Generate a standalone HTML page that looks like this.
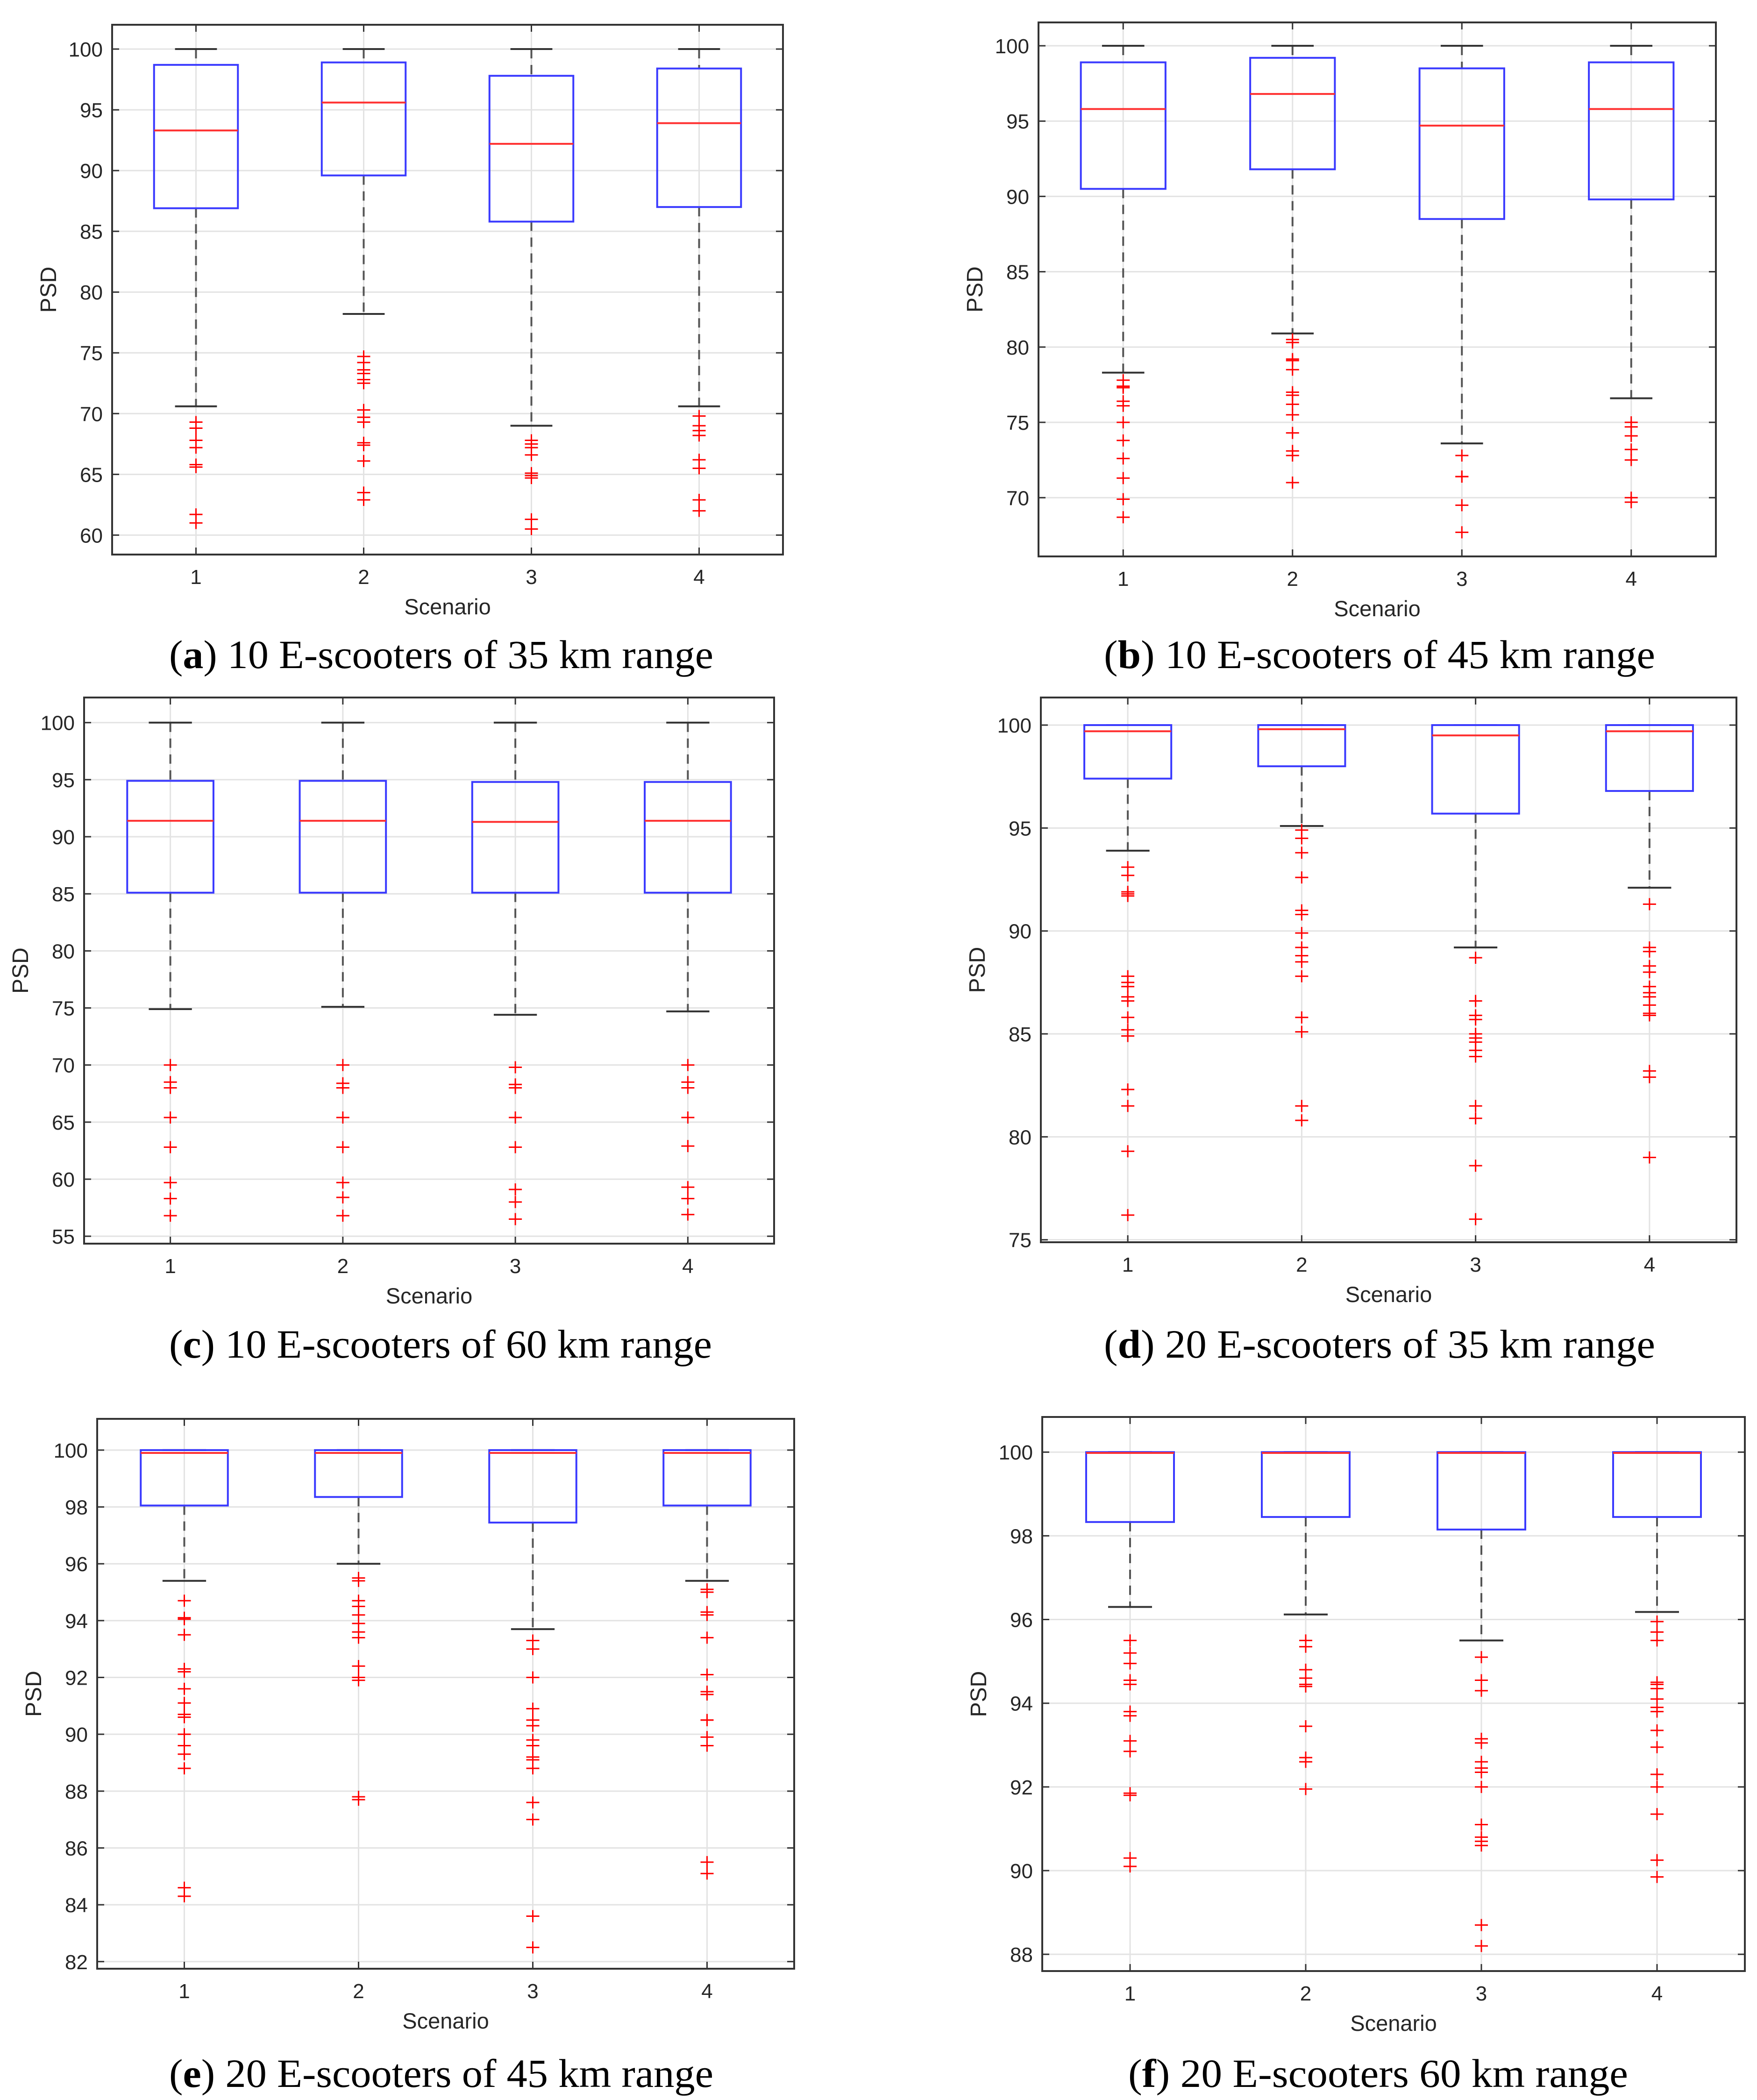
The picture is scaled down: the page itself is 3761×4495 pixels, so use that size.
<!DOCTYPE html>
<html><head><meta charset="utf-8"><style>
html,body{margin:0;padding:0;background:#fff}
svg{display:block}
</style></head><body>
<svg id="fig" xmlns="http://www.w3.org/2000/svg" width="3761" height="4495" viewBox="0 0 3761 4495"></svg>
<script>
// ---- data: panel (a)
const aTicks=[60,65,70,75,80,85,90,95,100];
const aUpper=[100,100,100,100];
const aQ3=[98.7,98.9,97.8,98.4];
const aMed=[93.3,95.6,92.2,93.9];
const aQ1=[86.9,89.6,85.8,87.0];
const aLower=[70.6,78.2,69.0,70.6];
const aOut1=[69.3,68.8,67.8,67.2,65.8,65.6,61.7,61.0];
const aOut2=[74.7,74.2,73.6,73.3,72.8,72.5,70.3,69.7,69.3,67.6,67.4,66.1,63.5,62.9];
const aOut3=[67.8,67.5,67.2,66.6,65.1,64.9,64.7,61.3,60.5];
const aOut4=[69.8,69.0,68.6,68.2,66.2,65.5,62.9,62.0];
// ---- panel (b)
const bTicks=[70,75,80,85,90,95,100];
const bUpper=[100,100,100,100];
const bQ3=[98.9,99.2,98.5,98.9];
const bMed=[95.8,96.8,94.7,95.8];
const bQ1=[90.5,91.8,88.5,89.8];
const bLower=[78.3,80.9,73.6,76.6];
const bOut1=[77.8,77.4,77.3,76.4,76.1,75.0,73.8,72.6,71.3,69.9,68.7];
const bOut2=[80.5,80.3,79.2,79.1,78.5,77.0,76.8,76.2,75.5,74.3,73.1,72.8,71.0];
const bOut3=[72.8,71.4,71.4,69.5,67.7];
const bOut4=[75.0,74.7,74.1,73.2,72.5,70.0,69.7];
// ---- panel (c)
const cTicks=[55,60,65,70,75,80,85,90,95,100];
const cUpper=[100,100,100,100];
const cQ3=[94.9,94.9,94.8,94.8];
const cMed=[91.4,91.4,91.3,91.4];
const cQ1=[85.1,85.1,85.1,85.1];
const cLower=[74.9,75.1,74.4,74.7];
const cOut1=[70.0,68.5,68.0,65.4,62.8,59.7,58.3,56.8];
const cOut2=[70.0,68.4,68.0,65.4,62.8,59.7,58.4,56.8];
const cOut3=[69.8,68.3,68.0,65.4,62.8,59.1,58.0,56.5];
const cOut4=[70.0,68.5,68.0,65.4,62.9,59.3,58.3,56.9];
// ---- panel (d)
const dTicks=[75,80,85,90,95,100];
const dUpper=[100,100,100,100];
const dQ3=[100,100,100,100];
const dMed=[99.7,99.8,99.5,99.7];
const dQ1=[97.4,98.0,95.7,96.8];
const dLower=[93.9,95.1,89.2,92.1];
const dOut1=[93.1,92.7,91.9,91.8,91.7,87.8,87.5,87.3,86.8,86.6,85.8,85.2,84.9,82.3,81.5,79.3,76.2];
const dOut2=[94.9,94.5,93.8,92.6,91.0,90.8,89.9,89.2,88.8,88.5,87.8,85.8,85.1,81.5,80.8];
const dOut3=[88.7,86.6,85.9,85.7,85.0,84.8,84.6,84.2,83.9,81.5,80.9,78.6,76.0];
const dOut4=[91.3,89.2,89.0,88.3,88.0,87.3,87.0,86.8,86.4,86.0,85.9,83.2,82.9,79.0];
// ---- panel (e)
const eTicks=[82,84,86,88,90,92,94,96,98,100];
const eUpper=[100,100,100,100];
const eQ3=[100,100,100,100];
const eMed=[99.9,99.9,99.9,99.9];
const eQ1=[98.05,98.35,97.45,98.05];
const eLower=[95.4,96.0,93.7,95.4];
const eOut1=[94.7,94.1,94.05,93.5,92.3,92.2,91.6,91.1,90.7,90.6,90.0,89.6,89.3,88.8,84.6,84.3];
const eOut2=[95.5,95.4,94.7,94.5,94.2,93.9,93.6,93.4,92.4,92.0,91.9,87.8,87.7];
const eOut3=[93.3,93.0,92.0,90.9,90.5,90.3,89.8,89.6,89.2,89.1,88.8,87.6,87.0,83.6,82.5];
const eOut4=[95.1,95.0,94.3,94.2,93.4,92.1,91.5,91.4,90.5,90.5,89.9,89.6,85.5,85.1];
// ---- panel (f)
const fTicks=[88,90,92,94,96,98,100];
const fUpper=[100,100,100,100];
const fQ3=[100,100,100,100];
const fMed=[99.98,99.98,99.98,99.98];
const fQ1=[98.33,98.45,98.15,98.45];
const fLower=[96.3,96.12,95.5,96.18];
const fOut1=[95.5,95.2,94.95,94.55,94.45,93.8,93.7,93.1,92.85,91.85,91.8,90.3,90.1];
const fOut2=[95.5,95.35,94.8,94.6,94.45,94.4,93.45,92.7,92.6,91.95];
const fOut3=[95.1,94.55,94.3,93.15,93.05,92.6,92.45,92.35,92.0,91.1,90.8,90.7,90.6,88.7,88.2];
const fOut4=[95.95,95.7,95.5,94.5,94.45,94.35,94.1,93.9,93.8,93.35,92.95,92.3,92.0,91.35,90.25,89.85];
const scenarios=[1,2,3,4];

// ---- layout (pixels) kept separate from data
const panels=[
 {id:'a',L:240,R:1676,T:53,B:1187,ymin:58.4,ymax:102,ticks:aTicks,up:aUpper,q3:aQ3,med:aMed,q1:aQ1,lo:aLower,out:[aOut1,aOut2,aOut3,aOut4],cap:' 10 E-scooters of 35 km range',cx:362,cw:1165,cy:1430},
 {id:'b',L:2223,R:3673,T:48,B:1191,ymin:66.1,ymax:101.55,ticks:bTicks,up:bUpper,q3:bQ3,med:bMed,q1:bQ1,lo:bLower,out:[bOut1,bOut2,bOut3,bOut4],cap:' 10 E-scooters of 45 km range',cx:2363,cw:1180,cy:1430},
 {id:'c',L:180,R:1657,T:1493,B:2662,ymin:54.35,ymax:102.2,ticks:cTicks,up:cUpper,q3:cQ3,med:cMed,q1:cQ1,lo:cLower,out:[cOut1,cOut2,cOut3,cOut4],cap:' 10 E-scooters of 60 km range',cx:362,cw:1162,cy:2906},
 {id:'d',L:2228,R:3717,T:1493,B:2659,ymin:74.88,ymax:101.34,ticks:dTicks,up:dUpper,q3:dQ3,med:dMed,q1:dQ1,lo:dLower,out:[dOut1,dOut2,dOut3,dOut4],cap:' 20 E-scooters of 35 km range',cx:2363,cw:1180,cy:2906},
 {id:'e',L:208,R:1700,T:3037,B:4214,ymin:81.75,ymax:101.1,ticks:eTicks,up:eUpper,q3:eQ3,med:eMed,q1:eQ1,lo:eLower,out:[eOut1,eOut2,eOut3,eOut4],cap:' 20 E-scooters of 45 km range',cx:362,cw:1165,cy:4467},
 {id:'f',L:2231,R:3735,T:3033,B:4219,ymin:87.6,ymax:100.84,ticks:fTicks,up:fUpper,q3:fQ3,med:fMed,q1:fQ1,lo:fLower,out:[fOut1,fOut2,fOut3,fOut4],cap:' 20 E-scooters 60 km range',cx:2415,cw:1070,cy:4467}
];
const NS='http://www.w3.org/2000/svg';
const svg=document.getElementById('fig');
function mk(tag,attrs,parent){const e=document.createElementNS(NS,tag);for(const k in attrs)e.setAttribute(k,attrs[k]);(parent||svg).appendChild(e);return e;}

panels.forEach(p=>{
  const g=mk('g',{});
  
  
  const y=v=>p.B-(v-p.ymin)/(p.ymax-p.ymin)*(p.B-p.T);
  const x=v=>p.L+(v-0.5)/4*(p.R-p.L);
  p.ticks.forEach(t=>{
    const l=mk('line',{x1:p.L,x2:p.R,y1:y(t),y2:y(t),stroke:'#e3e3e3','stroke-width':3},g);
    
    
  });
  scenarios.forEach(s=>{
    const l=mk('line',{x1:x(s),x2:x(s),y1:p.T,y2:p.B,stroke:'#e3e3e3','stroke-width':3},g);
    
    
  });
  scenarios.forEach((s,i)=>{
    const cx=x(s),hw=0.25/4*(p.R-p.L),cw=0.125/4*(p.R-p.L);
    const w1=mk('line',{x1:cx,x2:cx,y1:y(p.up[i]),y2:y(p.q3[i]),stroke:'#555','stroke-width':4,'stroke-dasharray':'20 14'},g);
    
    
    const w2=mk('line',{x1:cx,x2:cx,y1:y(p.q1[i]),y2:y(p.lo[i]),stroke:'#555','stroke-width':4,'stroke-dasharray':'20 14'},g);
    
    
    const c1=mk('line',{x1:cx-cw,x2:cx+cw,y1:y(p.up[i]),y2:y(p.up[i]),stroke:'#333','stroke-width':4},g);
    
    
    const c2=mk('line',{x1:cx-cw,x2:cx+cw,y1:y(p.lo[i]),y2:y(p.lo[i]),stroke:'#333','stroke-width':4},g);
    
    
    const b=mk('rect',{x:cx-hw,y:y(p.q3[i]),width:2*hw,height:y(p.q1[i])-y(p.q3[i]),fill:'none',stroke:'#3a3aff','stroke-width':4},g);
    
    
    const m=mk('line',{x1:cx-hw,x2:cx+hw,y1:y(p.med[i]),y2:y(p.med[i]),stroke:'#ff3030','stroke-width':4},g);
    
    
    p.out[i].forEach(v=>{
      const o=mk('path',{d:`M${cx-14} ${y(v)}h28M${cx} ${y(v)-13}v26`,stroke:'#ff0000','stroke-width':3,fill:'none'},g);
      
      
    });
  });
  const fr=mk('rect',{x:p.L,y:p.T,width:p.R-p.L,height:p.B-p.T,fill:'none',stroke:'#333','stroke-width':4},g);
  
  
  p.ticks.forEach(t=>{
    mk('path',{d:`M${p.L} ${y(t)}h15M${p.R} ${y(t)}h-15`,stroke:'#333','stroke-width':3},g);
    const tl=mk('text',{x:p.L-20,y:y(t)+16,'text-anchor':'end','font-family':'Liberation Sans, sans-serif','font-size':44,fill:'#262626'},g);
    tl.textContent=t;
    
    
  });
  scenarios.forEach(s=>{
    mk('path',{d:`M${x(s)} ${p.B}v-15M${x(s)} ${p.T}v15`,stroke:'#333','stroke-width':3},g);
    const tl=mk('text',{x:x(s),y:p.B+63,'text-anchor':'middle','font-family':'Liberation Sans, sans-serif','font-size':44,fill:'#262626'},g);
    tl.textContent=s;
    
    
  });
  const xt=mk('text',{x:(p.L+p.R)/2,y:p.B+128,'text-anchor':'middle','font-family':'Liberation Sans, sans-serif','font-size':47,fill:'#262626'},g);
  xt.textContent='Scenario';
  
  
  const yc=(p.T+p.B)/2;
  const yt=mk('text',{x:p.L-120,y:yc,'text-anchor':'middle','font-family':'Liberation Sans, sans-serif','font-size':48,fill:'#262626',transform:`rotate(-90 ${p.L-120} ${yc})`},g);
  yt.textContent='PSD';
  
  
  const cap=mk('text',{x:p.cx,y:p.cy,'font-family':'Liberation Serif, serif','font-size':86,fill:'#000',textLength:p.cw,lengthAdjust:'spacingAndGlyphs'},g);
  
  
  const t1=mk('tspan',{},cap);t1.textContent='(';
  const t2=mk('tspan',{'font-weight':'bold'},cap);t2.textContent=p.id;
  const t3=mk('tspan',{},cap);t3.textContent=')'+p.cap;
});
</script>
</body></html>
